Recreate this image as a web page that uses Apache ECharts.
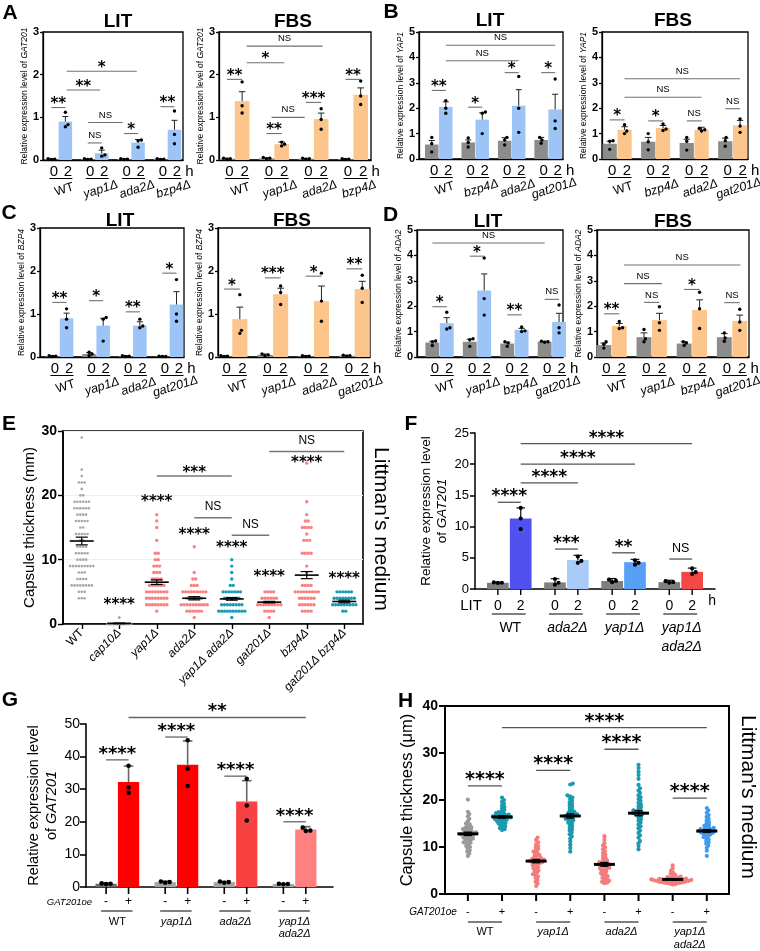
<!DOCTYPE html>
<html><head><meta charset="utf-8">
<script src="https://cdn.jsdelivr.net/npm/echarts@6.0.0/dist/echarts.min.js"></script>
<style>html,body{margin:0;padding:0;background:#fff;}#chart{width:760px;height:951px;}</style>
</head><body><div id="chart"></div>
<script>
// ======================= DATA =======================
// Panels A-D: per strain [0 h, 2 h]; dots = individual replicates; sig = [x1, x2, y, label]
const aGroups = ['WT','yap1Δ','ada2Δ','bzp4Δ'];
const aLitMean = [[0.02,0.90],[0.02,0.16],[0.02,0.41],[0.02,0.71]];
const aLitErr  = [[0.01,0.12],[0.01,0.07],[0.01,0.07],[0.01,0.22]];
const aLitDots = [[[0.03,0.02,0.01],[1.12,0.83,0.78]],[[0.03,0.02,0.01],[0.28,0.12,0.09]],[[0.03,0.02,0.01],[0.47,0.45,0.30]],[[0.03,0.02,0.01],[1.15,0.60,0.38]]];
const aLitSig  = [[0,0.385,1.23,'**'],[1,1.385,0.40,'NS'],[2,2.385,0.62,'*'],[3,3.385,1.25,'**'],[1.01,1.96,0.88,'NS'],[0.42,1.34,1.64,'**'],[0.42,2.35,2.08,'*']];
const aFbsMean = [[0.03,1.38],[0.04,0.37],[0.03,0.96],[0.02,1.53]];
const aFbsErr  = [[0.01,0.22],[0.01,0.05],[0.01,0.14],[0.01,0.16]];
const aFbsDots = [[[0.04,0.03,0.02],[1.83,1.27,1.10]],[[0.06,0.04,0.03],[0.42,0.37,0.33]],[[0.04,0.03,0.02],[1.20,0.95,0.72]],[[0.03,0.02,0.01],[1.85,1.50,1.30]]];
const aFbsSig  = [[0,0.385,1.89,'**'],[1,1.385,0.62,'**'],[2,2.385,1.35,'***'],[3,3.385,1.89,'**'],[1.13,1.97,1.00,'NS'],[0.5,1.45,2.28,'*'],[0.5,2.42,2.67,'NS']];

const bGroups = ['WT','bzp4Δ','ada2Δ','gat201Δ'];
const bLitMean = [[0.57,2.05],[0.65,1.55],[0.72,2.10],[0.75,1.95]];
const bLitErr  = [[0.16,0.20],[0.10,0.27],[0.12,0.63],[0.10,0.60]];
const bLitDots = [[[0.85,0.60,0.28],[2.30,2.00,1.80]],[[0.83,0.65,0.47],[1.85,1.80,1.00]],[[0.85,0.75,0.55],[3.25,2.00,1.05]],[[0.85,0.75,0.62],[3.15,1.50,1.20]]];
const bLitSig  = [[0,0.385,2.70,'**'],[1,1.385,2.04,'*'],[2,2.385,3.40,'*'],[3,3.385,3.40,'*'],[0.385,2.385,3.87,'NS'],[0.385,3.385,4.48,'NS']];
const bFbsMean = [[0.60,1.15],[0.68,1.22],[0.63,1.15],[0.70,1.32]];
const bFbsErr  = [[0.10,0.12],[0.17,0.10],[0.15,0.10],[0.12,0.20]];
const bFbsDots = [[[0.72,0.70,0.38],[1.35,1.10,1.00]],[[1.00,0.68,0.36],[1.38,1.18,1.12]],[[0.85,0.70,0.35],[1.20,1.15,1.10]],[[0.85,0.72,0.50],[1.58,1.30,1.05]]];
const bFbsSig  = [[0,0.385,1.54,'*'],[1,1.385,1.50,'*'],[2,2.385,1.50,'NS'],[3,3.385,1.98,'NS'],[0.385,2.385,2.43,'NS'],[0.385,3.385,3.16,'NS']];

const cGroups = ['WT','yap1Δ','ada2Δ','gat201Δ'];
const cLitMean = [[0.02,0.90],[0.07,0.73],[0.02,0.73],[0.01,1.22]];
const cLitErr  = [[0.01,0.12],[0.03,0.17],[0.01,0.09],[0.01,0.30]];
const cLitDots = [[[0.03,0.02,0.01],[1.12,0.88,0.68]],[[0.11,0.07,0.03],[0.92,0.88,0.37]],[[0.03,0.02,0.01],[0.88,0.72,0.68]],[[0.02,0.01,0.01],[1.80,1.00,0.83]]];
const cLitSig  = [[0,0.385,1.27,'**'],[1,1.385,1.31,'*'],[2,2.385,1.05,'**'],[3,3.385,1.95,'*']];
const cFbsMean = [[0.02,0.88],[0.05,1.46],[0.02,1.30],[0.03,1.58]];
const cFbsErr  = [[0.01,0.28],[0.02,0.14],[0.01,0.35],[0.01,0.18]];
const cFbsDots = [[[0.03,0.02,0.01],[1.45,0.62,0.55]],[[0.07,0.05,0.03],[1.65,1.50,1.22]],[[0.03,0.02,0.01],[1.95,1.30,0.83]],[[0.04,0.03,0.02],[1.90,1.60,1.27]]];
const cFbsSig  = [[0,0.385,1.58,'*'],[1,1.385,1.84,'***'],[2,2.385,1.88,'*'],[3,3.385,2.05,'**']];

const dGroups = ['WT','yap1Δ','bzp4Δ','gat201Δ'];
const dLitMean = [[0.57,1.33],[0.60,2.62],[0.53,1.07],[0.60,1.38]];
const dLitErr  = [[0.05,0.22],[0.10,0.65],[0.05,0.06],[0.02,0.34]];
const dLitDots = [[[0.63,0.60,0.45],[1.76,1.15,1.10]],[[0.72,0.68,0.42],[3.90,2.30,1.65]],[[0.60,0.55,0.42],[1.18,1.03,1.00]],[[0.62,0.60,0.58],[2.05,1.15,0.95]]];
const dLitSig  = [[0,0.385,1.98,'*'],[1,1.385,3.97,'*'],[2,2.385,1.66,'**'],[3,3.385,2.27,'NS'],[0,3.0,4.49,'NS']];
const dFbsMean = [[0.47,1.22],[0.78,1.45],[0.53,1.85],[0.78,1.42]];
const dFbsErr  = [[0.08,0.10],[0.17,0.27],[0.07,0.40],[0.14,0.23]];
const dFbsDots = [[[0.60,0.50,0.35],[1.40,1.15,1.12]],[[1.08,0.72,0.60],[1.98,1.35,1.05]],[[0.60,0.55,0.45],[2.55,1.90,1.12]],[[0.95,0.75,0.62],[1.88,1.38,1.05]]];
const dFbsSig  = [[0,0.385,1.70,'**'],[1,1.385,2.15,'NS'],[2,2.385,2.66,'*'],[3,3.385,2.14,'NS'],[0.5,1.45,2.89,'NS'],[0.5,3.4,3.62,'NS']];

// Panel E: capsule thickness, dots as [value, count] rows
const eGroups = ['WT','cap10Δ','yap1Δ','ada2Δ','yap1Δ ada2Δ','gat201Δ','bzp4Δ','gat201Δ bzp4Δ'];
const eCounts = [
  [[29,1],[24,1],[23,1],[22,3],[21,1],[20,2],[19,6],[18,6],[17,4],[16,5],[15,2],[14,5],[13,2],[12,4],[11,5],[10,4],[9,9],[8,3],[7,4],[6,8],[5,3],[4,3]],
  [[1,1],[0,9]],
  [[17,1],[16,1],[15,1],[13,1],[11,2],[10,2],[9,3],[8,3],[7,4],[6,6],[5,8],[4,8],[3,8],[2,1]],
  [[12,1],[8,1],[7,2],[6,3],[5,9],[4,6],[3,10],[2,6],[1,1]],
  [[10,1],[9,1],[8,1],[7,1],[6,2],[5,7],[4,6],[3,8],[2,10],[1,1]],
  [[5,4],[4,6],[3,9],[2,4],[1,1]],
  [[25,1],[19,1],[17,1],[16,2],[15,4],[14,1],[13,3],[11,4],[9,1],[8,1],[6,4],[5,9],[4,6],[3,6],[2,4]],
  [[5,6],[4,8],[3,9],[2,2]]
];
const eMean = [12.9,0.1,6.5,4.0,3.9,3.4,7.6,3.5];
const eSem  = [0.6,0.05,0.35,0.25,0.2,0.12,0.55,0.2];
const eStars = [[1,3.5,'****'],[2,19.5,'****'],[3,14.3,'****'],[4,12.3,'****'],[5,7.8,'****'],[6,25.6,'****'],[7,7.5,'****']];
const eSig = [[2,4,23.0,'***'],[3,4,16.5,'NS'],[4,5,13.8,'NS'],[5,7,26.8,'NS']];

// Panel F: GAT201 in LIT, [0 h, 2 h]
const fGroups = ['WT','ada2Δ','yap1Δ','yap1Δ\nada2Δ'];
const fMean = [[1.00,11.3],[1.05,4.65],[1.28,4.30],[1.10,2.75]];
const fErr  = [[0.05,1.70],[0.60,0.75],[0.40,0.45],[0.30,0.60]];
const fDots = [[[1.05,1.00,0.98],[13.0,11.3,9.6]],[[1.6,1.0,0.7],[5.2,4.5,4.2]],[[1.5,1.3,1.1],[4.6,4.2,3.9]],[[1.25,1.1,1.0],[3.3,2.7,2.4]]];
const fSig  = [[0,0.4,13.9,'****'],[0.4,1.4,17,'****'],[0.4,2.4,20,'****'],[0.4,3.4,23.3,'****'],[1,1.4,6.4,'***'],[2,2.4,5.8,'**'],[3,3.4,4.8,'NS']];

// Panel G: GAT201 overexpression [-, +]
const gGroups = ['WT','yap1Δ','ada2Δ','yap1Δ\nada2Δ'];
const gMean = [[1.0,32.2],[1.5,37.5],[1.5,26.2],[0.9,17.6]];
const gErr  = [[0.2,4.9],[0.3,7.3],[0.2,6.4],[0.1,0.9]];
const gDots = [[[1.1,1.0,0.9],[37.2,30.5,28.9]],[[1.7,1.5,1.3],[45.0,36.3,31.0]],[[1.7,1.5,1.3],[33.2,25.0,20.4]],[[1.0,0.9,0.85],[18.2,17.3,17.2]]];
const gSig  = [[0,0.38,39,'****'],[1,1.38,46,'****'],[2,2.38,34,'****'],[3,3.38,20,'****'],[0.38,3.38,52,'**']];

// Panel H: capsule thickness (µm), GAT201oe -/+
const hGroups = ['WT','yap1Δ','ada2Δ','yap1Δ\nada2Δ'];
const hWTm = [20.1,17.5,17.0,16.5,16.0,15.5,15.0,14.8,14.5,14.2,14.0,13.8,13.5,13.3,13.1,13.0,12.9,12.8,12.6,12.5,12.3,12.1,12.0,11.8,11.5,11.3,11.0,10.8,10.5,10.2,10.0,9.7,9.3,9.0,8.6,8.1,12.7,13.2,12.4,11.9,14.1,13.6,11.6,10.9];
const hWTp = [20.5,20.0,19.6,19.2,18.8,18.5,18.2,17.9,17.6,17.4,17.2,17.0,16.8,16.7,16.6,16.5,16.4,16.3,16.2,16.1,16.0,15.9,15.8,15.6,15.5,15.3,15.1,15.0,14.8,14.6,14.4,14.2,14.0,13.8,13.6,16.5,16.9,15.7,17.1,16.3];
const hYapm = [12.0,11.5,11.0,10.6,10.2,9.9,9.6,9.3,9.0,8.8,8.5,8.3,8.1,7.9,7.7,7.5,7.3,7.1,7.0,6.9,6.7,6.5,6.3,6.1,5.9,5.7,5.5,5.3,5.0,4.8,4.5,4.2,4.0,3.7,3.4,3.0,2.6,2.2,1.7,7.2,6.8,7.4,6.6];
const hYapp = [23.5,23.3,21.0,20.8,20.5,20.2,19.8,19.5,19.2,18.9,18.6,18.3,18.0,17.7,17.5,17.2,17.0,16.8,16.6,16.4,16.2,16.0,15.8,15.5,15.2,15.0,14.7,14.4,14.1,13.8,13.5,13.1,12.7,12.3,11.8,11.2,10.5,9.8,9.0,16.5,16.9,17.3,15.7];
const hAdam = [12.3,11.5,10.8,10.3,9.9,9.5,9.1,8.7,8.4,8.1,7.8,7.5,7.2,7.0,6.8,6.6,6.4,6.2,6.0,5.8,5.6,5.4,5.2,5.0,4.8,4.6,4.4,4.2,4.0,3.8,3.6,3.4,3.2,3.0,2.8,2.6,2.4,2.3,6.3,6.1,5.5,6.7];
const hAdap = [27.5,26.8,26.0,25.3,24.5,23.2,22.5,22.0,21.5,21.0,20.6,20.2,19.8,19.4,19.0,18.7,18.4,18.1,17.8,17.5,17.2,17.0,16.8,16.5,16.2,15.9,15.6,15.2,14.8,14.4,14.0,13.5,13.0,12.5,12.0,11.3,10.8,10.2,9.5,17.4,16.9,17.6];
const hDblm = [6.1,5.5,5.0,4.6,4.3,4.1,3.9,3.7,3.6,3.5,3.4,3.3,3.2,3.2,3.1,3.1,3.0,3.0,2.9,2.9,2.8,2.8,2.7,2.7,2.6,2.6,2.5,2.5,2.4,2.4,2.3,2.3,2.2,2.1,2.0,3.0,3.1,2.9,3.3,2.8];
const hDblp = [18.3,17.8,17.3,16.8,16.4,16.0,15.6,15.3,15.0,14.7,14.5,14.3,14.1,13.9,13.7,13.5,13.4,13.3,13.2,13.1,13.0,12.9,12.7,12.5,12.3,12.1,11.9,11.6,11.3,11.0,10.7,10.3,9.8,9.2,8.1,13.6,13.8,12.8,13.4,14.0];
const hMean = [12.8,16.4,7.0,16.6,6.3,17.2,3.1,13.4];
const hSem  = [0.35,0.25,0.35,0.45,0.4,0.55,0.15,0.3];
const hSig  = [[1,2,23.0,'****'],[3,4,26.3,'****'],[5,6,30.8,'****'],[7,8,20.4,'****'],[2,8,35.4,'****']];

// ======================= BUILD =======================
const FONT = 'Liberation Sans';
const STARF = 'DejaVu Sans';
const grids = [], xAxes = [], yAxes = [], series = [], graphic = [];

function ts(text, o) {
  return Object.assign({text: text, fill: '#000', fontFamily: FONT, fontSize: 12, fontWeight: 'normal', fontStyle: 'normal',
    align: 'center', verticalAlign: 'middle', textAlign: 'center', textVerticalAlign: 'middle'}, o || {});
}
function fixAlign(s){ s.textAlign = s.align; s.textVerticalAlign = s.verticalAlign; return s; }
function ln(x1, y1, x2, y2, c, w) { return {type: 'line', shape: {x1, y1, x2, y2}, style: {stroke: c, lineWidth: w}}; }

function swarm(vals, pyu, d) {
  const placed = [], out = new Array(vals.length);
  const order = vals.map((v, i) => i).sort((a, b) => vals[a] - vals[b]);
  for (const i of order) {
    const y = vals[i] * pyu;
    const cands = [0];
    for (const q of placed) {
      const dy = y - q.y;
      if (Math.abs(dy) < d) { const dx = Math.sqrt(d * d - dy * dy); cands.push(q.x + dx + 1e-6, q.x - dx - 1e-6); }
    }
    cands.sort((a, b) => Math.abs(a) - Math.abs(b));
    let best = 0;
    for (const c of cands) {
      if (placed.every(q => (q.x - c) * (q.x - c) + (q.y - y) * (q.y - y) >= d * d - 1e-3)) { best = c; break; }
    }
    placed.push({x: best, y}); out[i] = best;
  }
  return out;
}

function addGrid(rect, box, boxW) {
  grids.push({left: rect[0], top: rect[1], width: rect[2], height: rect[3], show: !!box, borderColor: '#000', borderWidth: boxW || 1.3, backgroundColor: 'transparent'});
  return grids.length - 1;
}

function sigSeries(xi, yi, sig, o) {
  return {type: 'custom', xAxisIndex: xi, yAxisIndex: yi, z: 5, silent: true, clip: false,
    data: sig.map(s => [s[0], s[1], s[2]]), encode: {x: [0, 1], y: 2},
    renderItem: (p, api) => {
      const s = sig[p.dataIndex];
      const a = api.coord([s[0], s[2]]), b = api.coord([s[1], s[2]]);
      const star = s[3].indexOf('*') >= 0;
      const fs = star ? o.starSize : o.nsSize;
      const ty = star ? a[1] - o.starGap + 0.24 * fs : a[1] - o.nsGap;
      return {type: 'group', children: [
        ln(a[0], a[1], b[0], b[1], o.lineColor, o.lineW),
        {type: 'text', x: (a[0] + b[0]) / 2, y: ty, style: fixAlign(ts(s[3], {fontSize: fs, fontFamily: star ? STARF : FONT, fontWeight: star ? 'bold' : 'normal'}))}
      ]};
    }};
}

function labelSeries(xi, yi, P) {
  const L = P.lab;
  const gStart = P.gStart || 0, gStep = P.gStep || 1;
  return {type: 'custom', xAxisIndex: xi, yAxisIndex: yi, z: 6, silent: true, clip: false,
    data: P.groups.map((g, i) => [gStart + i * gStep, 0]), encode: {x: 0, y: 1},
    renderItem: (p, api) => {
      const g = p.dataIndex;
      const x0 = gStart + g * gStep;
      const a = api.coord([x0, 0]), b = api.coord([x0 + P.off, 0]);
      const yb = a[1], ch = [];
      if (L.tick) { ch.push(ln(a[0], yb, a[0], yb + L.tick, '#000', L.tickW || 1.4)); ch.push(ln(b[0], yb, b[0], yb + L.tick, '#000', L.tickW || 1.4)); }
      ch.push({type: 'text', x: a[0] + L.markDx, y: yb + L.markDy, style: fixAlign(ts(L.marks[0], {fontSize: L.markSize}))});
      ch.push({type: 'text', x: b[0] + L.markDx, y: yb + L.markDy, style: fixAlign(ts(L.marks[1], {fontSize: L.markSize}))});
      ch.push(ln(a[0] + L.ulX0, yb + L.ulDy, b[0] + L.ulX1, yb + L.ulDy, '#000', 1));
      const name = P.groups[g];
      ch.push({type: 'text', x: (a[0] + b[0]) / 2 + L.nameDx, y: yb + L.nameDy, rotation: L.nameRot || 0,
        style: fixAlign(ts(name, {fontSize: L.nameSize, fontStyle: name === 'WT' ? 'normal' : 'italic', lineHeight: L.nameLH || L.nameSize + 2, verticalAlign: L.nameVA || 'middle'}))});
      if (g === P.groups.length - 1 && L.end) ch.push({type: 'text', x: b[0] + L.endDx, y: yb + L.endDy, style: fixAlign(ts(L.end, {fontSize: L.endSize}))});
      if (g === 0 && L.start) ch.push({type: 'text', x: a[0] + L.startDx, y: yb + L.startDy, style: fixAlign(ts(L.start, {fontSize: L.startSize, align: 'right', fontStyle: L.startItalic ? 'italic' : 'normal'}))});
      return {type: 'group', children: ch};
    }};
}

function barPanel(P) {
  const gi = addGrid(P.rect, P.box, P.boxW);
  const xi = xAxes.length, yi = yAxes.length;
  xAxes.push({gridIndex: gi, type: 'value', min: P.xMin, max: P.xMax,
    axisLine: {show: true, onZero: false, lineStyle: {color: '#000', width: P.axisW}}, axisTick: {show: false}, axisLabel: {show: false}, splitLine: {show: false}});
  yAxes.push({gridIndex: gi, type: 'value', min: 0, max: P.yMax, interval: P.yInt,
    axisLine: {show: true, onZero: false, lineStyle: {color: '#000', width: P.axisW}},
    axisTick: {show: true, length: P.tickLen, lineStyle: {color: '#000', width: P.axisW}},
    axisLabel: {color: '#000', fontFamily: FONT, fontSize: P.yFont, fontWeight: P.yBold ? 'bold' : 'normal', margin: P.yMargin},
    splitLine: {show: false}, name: P.yName, nameLocation: 'middle', nameGap: P.nameGap, nameTextStyle: P.nameStyle});
  const pyu = P.rect[3] / P.yMax, pxu = P.rect[2] / (P.xMax - P.xMin);
  const bars = [], dots = [];
  P.means.forEach((pair, g) => pair.forEach((m, k) => {
    const x = g + k * P.off;
    bars.push([x, m, P.errs[g][k], k, g]);
    const vals = P.dots[g][k];
    const offs = swarm(vals, pyu, P.dotD);
    vals.forEach((v, j) => dots.push([x + offs[j] / pxu, v]));
  }));
  series.push({type: 'custom', xAxisIndex: xi, yAxisIndex: yi, z: 2, silent: true, data: bars, encode: {x: 0, y: 1},
    renderItem: (p, api) => {
      const x = api.value(0), y = api.value(1), e = api.value(2), k = api.value(3), g = api.value(4);
      const p0 = api.coord([x - P.barW / 2, y]), p1 = api.coord([x + P.barW / 2, 0]);
      const top = api.coord([x, y + e]);
      const cx = (p0[0] + p1[0]) / 2, cw = (p1[0] - p0[0]) * P.capFrac;
      const col = k === 0 ? P.c0[g] : P.c1[g];
      return {type: 'group', children: [
        {type: 'rect', shape: {x: p0[0], y: p0[1], width: p1[0] - p0[0], height: p1[1] - p0[1]}, style: {fill: col}},
        ln(cx, p0[1], cx, top[1], P.errColor, P.errW),
        ln(cx - cw / 2, top[1], cx + cw / 2, top[1], P.errColor, P.errW)
      ]};
    }});
  series.push({type: 'scatter', xAxisIndex: xi, yAxisIndex: yi, z: 4, silent: true, data: dots, symbolSize: P.dotSize, itemStyle: {color: '#000', opacity: 1}});
  series.push(sigSeries(xi, yi, P.sig, P.sigStyle));
  series.push(labelSeries(xi, yi, P));
}

// ---------- Panels A-D ----------
const GRAY0 = '#8c8c8c', BLUE = '#9cc4f6', ORANGE = '#fcc58c';
const abcdLab = {marks: ['0', '2'], markSize: 15, markDx: 2.5, markDy: 12, ulX0: -2, ulX1: 7, ulDy: 18.5,
  nameDx: 6, nameDy: 29.5, nameSize: 12.5, nameRot: 0.3, end: 'h', endDx: 15, endDy: 11.5, endSize: 15};
const abcdSig = {lineColor: '#707070', lineW: 1.1, starSize: 15, nsSize: 9.5, starGap: 7, nsGap: 7.5};
function geneName(g) {
  return {name: '{n|Relative expression level of }{i|' + g + '}', style: {fontSize: 8.5, color: '#000', fontFamily: FONT,
    rich: {n: {fontSize: 8.5, fontFamily: FONT, color: '#000'}, i: {fontSize: 8.5, fontFamily: FONT, color: '#000', fontStyle: 'italic'}}}};
}
const abcdSpecs = [
  {rect: [43, 32, 140, 128], xMin: -0.23, xMax: 3.62, yMax: 3, means: aLitMean, errs: aLitErr, dots: aLitDots, sig: aLitSig, groups: aGroups, c1: BLUE, gene: 'GAT201', nameGap: 13},
  {rect: [219, 32, 152, 128], xMin: -0.20, xMax: 3.646, yMax: 3, means: aFbsMean, errs: aFbsErr, dots: aFbsDots, sig: aFbsSig, groups: aGroups, c1: ORANGE, gene: 'GAT201', nameGap: 11},
  {rect: [419, 32, 144, 127], xMin: -0.35, xMax: 3.60, yMax: 5, means: bLitMean, errs: bLitErr, dots: bLitDots, sig: bLitSig, groups: bGroups, c1: BLUE, gene: 'YAP1', nameGap: 11},
  {rect: [602, 32, 146, 127], xMin: -0.20, xMax: 3.59, yMax: 5, means: bFbsMean, errs: bFbsErr, dots: bFbsDots, sig: bFbsSig, groups: bGroups, c1: ORANGE, gene: 'YAP1', nameGap: 13},
  {rect: [40, 228, 144, 129], xMin: -0.34, xMax: 3.59, yMax: 3, means: cLitMean, errs: cLitErr, dots: cLitDots, sig: cLitSig, groups: cGroups, c1: BLUE, gene: 'BZP4', nameGap: 11},
  {rect: [218, 228, 152, 129], xMin: -0.15, xMax: 3.575, yMax: 3, means: cFbsMean, errs: cFbsErr, dots: cFbsDots, sig: cFbsSig, groups: cGroups, c1: ORANGE, gene: 'BZP4', nameGap: 11},
  {rect: [417, 230, 146, 127], xMin: -0.41, xMax: 3.49, yMax: 5, means: dLitMean, errs: dLitErr, dots: dLitDots, sig: dLitSig, groups: dGroups, c1: BLUE, gene: 'ADA2', nameGap: 11},
  {rect: [597, 230, 152, 127], xMin: -0.17, xMax: 3.615, yMax: 5, means: dFbsMean, errs: dFbsErr, dots: dFbsDots, sig: dFbsSig, groups: dGroups, c1: ORANGE, gene: 'ADA2', nameGap: 11}
];
abcdSpecs.forEach(s => {
  const gn = geneName(s.gene);
  barPanel({rect: s.rect, box: true, boxW: 1.3, xMin: s.xMin, xMax: s.xMax, yMax: s.yMax, yInt: 1, axisW: 1.3, tickLen: 3,
    yFont: 11, yBold: true, yMargin: 4, yName: gn.name, nameGap: s.nameGap, nameStyle: gn.style,
    means: s.means, errs: s.errs, dots: s.dots, sig: s.sig, groups: s.groups, off: 0.385, barW: 0.37, capFrac: 0.45,
    c0: [GRAY0, GRAY0, GRAY0, GRAY0], c1: [s.c1, s.c1, s.c1, s.c1], errColor: '#222', errW: 1, dotD: 3.4, dotSize: 3.4,
    sigStyle: abcdSig, lab: abcdLab});
});

// ---------- Panel F ----------
const relName2 = {name: '{n|Relative expression level}\n{n|of }{i|GAT201}'};
function relStyle(fs) {
  return {fontSize: fs, color: '#000', fontFamily: FONT, lineHeight: fs + 3,
    rich: {n: {fontSize: fs, fontFamily: FONT, color: '#000', lineHeight: fs + 3}, i: {fontSize: fs, fontFamily: FONT, color: '#000', fontStyle: 'italic', lineHeight: fs + 3}}};
}
barPanel({rect: [475, 433, 240, 156], box: false, xMin: -0.4, xMax: 3.8, yMax: 25, yInt: 5, axisW: 1.5, tickLen: 5,
  yFont: 13, yBold: false, yMargin: 6, yName: relName2.name, nameGap: 23, nameStyle: relStyle(13.5),
  means: fMean, errs: fErr, dots: fDots, sig: fSig, groups: fGroups, off: 0.4, barW: 0.38, capFrac: 0.4,
  c0: ['#7f7f7f', '#7f7f7f', '#7f7f7f', '#7f7f7f'], c1: ['#5151f0', '#a8cbf8', '#57a0f5', '#f44848'], errColor: '#111', errW: 1.2,
  dotD: 4, dotSize: 4.2,
  sigStyle: {lineColor: '#555', lineW: 1.3, starSize: 17, nsSize: 12.5, starGap: 9.5, nsGap: 11},
  lab: {tick: 6, marks: ['0', '2'], markSize: 14, markDx: 0, markDy: 17, ulX0: -6, ulX1: 5, ulDy: 25,
    nameDx: 1, nameDy: 29.5, nameSize: 14, nameLH: 19, nameVA: 'top', start: 'LIT', startDx: -16, startDy: 17, startSize: 15,
    end: 'h', endDx: 20, endDy: 12, endSize: 14}});

// ---------- Panel G ----------
barPanel({rect: [86, 724, 247, 163], box: false, xMin: -0.34, xMax: 3.84, yMax: 50, yInt: 10, axisW: 1.6, tickLen: 6,
  yFont: 14, yBold: false, yMargin: 6, yName: relName2.name, nameGap: 24, nameStyle: relStyle(14.5),
  means: gMean, errs: gErr, dots: gDots, sig: gSig, groups: gGroups, off: 0.38, barW: 0.36, capFrac: 0.45,
  c0: ['#6e6e6e', '#a5a5a5', '#a5a5a5', '#a0a0a0'], c1: ['#ff0000', '#ff0000', '#f84242', '#ff8080'], errColor: '#666', errW: 1.6,
  dotD: 4.5, dotSize: 4.6,
  sigStyle: {lineColor: '#666', lineW: 1.3, starSize: 18, nsSize: 12, starGap: 10, nsGap: 10},
  lab: {tick: 7, tickW: 1.6, marks: ['-', '+'], markSize: 12, markDx: 0, markDy: 15, ulX0: -5, ulX1: 4, ulDy: 24,
    nameDx: 0, nameDy: 29.5, nameSize: 11, nameLH: 11.5, nameVA: 'top', start: 'GAT201oe', startDx: -14, startDy: 15, startSize: 9.5, startItalic: true}});

// ---------- Panel E ----------
(function () {
  const gi = addGrid([63, 431, 300, 193], true, 1.6);
  xAxes.push({gridIndex: gi, type: 'category', data: eGroups,
    axisLine: {onZero: false, lineStyle: {color: '#000', width: 1.6}},
    axisTick: {show: true, alignWithLabel: true, length: 5, lineStyle: {color: '#000', width: 1.4}},
    axisLabel: {rotate: 45, margin: 7, fontSize: 12, color: '#000', fontFamily: FONT, interval: 0,
      formatter: v => v === 'WT' ? v : '{i|' + v + '}', rich: {i: {fontStyle: 'italic', fontSize: 12, fontFamily: FONT, color: '#000'}}},
    splitLine: {show: false}});
  const xv = xAxes.length;
  xAxes.push({gridIndex: gi, type: 'value', min: -0.5, max: 7.5, show: false});
  const yi = yAxes.length;
  yAxes.push({gridIndex: gi, type: 'value', min: 0, max: 30, interval: 10,
    axisLine: {show: true, onZero: false, lineStyle: {color: '#000', width: 1.6}},
    axisTick: {show: true, length: 5, lineStyle: {color: '#000', width: 1.4}},
    axisLabel: {color: '#000', fontFamily: FONT, fontSize: 14, fontWeight: 'bold', margin: 6},
    splitLine: {show: true, lineStyle: {color: '#efefef', width: 1}},
    name: 'Capsule thickness (mm)', nameLocation: 'middle', nameGap: 22, nameTextStyle: {fontSize: 15, fontFamily: FONT, color: '#000'}});
  const pxu = 300 / 8;
  const eColors = ['#a6a6a6', '#a6a6a6', '#f98181', '#f98181', '#199cb6', '#f98181', '#f98181', '#199cb6'];
  const eSizes = [2.6, 3, 3.4, 3.4, 3.4, 3.4, 3.4, 3.4];
  eCounts.forEach((rows, k) => {
    const pts = [];
    rows.forEach(([v, n]) => { for (let i = 0; i < n; i++) pts.push([k + (i - (n - 1) / 2) * 2.9 / pxu, v]); });
    series.push({type: 'scatter', xAxisIndex: xv, yAxisIndex: yi, z: 3, silent: true, data: pts, symbolSize: eSizes[k], itemStyle: {color: eColors[k], opacity: 1}});
  });
  series.push({type: 'custom', xAxisIndex: xv, yAxisIndex: yi, z: 4, silent: true,
    data: eMean.map((m, k) => [k, m, eSem[k]]), encode: {x: 0, y: 1},
    renderItem: (p, api) => {
      const c = api.coord([api.value(0), api.value(1)]);
      const t = api.coord([api.value(0), api.value(1) + api.value(2)]);
      const b = api.coord([api.value(0), api.value(1) - api.value(2)]);
      return {type: 'group', children: [
        ln(c[0] - 12, c[1], c[0] + 12, c[1], '#000', 1.6),
        ln(c[0], t[1], c[0], b[1], '#000', 1.2),
        ln(c[0] - 6, t[1], c[0] + 6, t[1], '#000', 1.2),
        ln(c[0] - 6, b[1], c[0] + 6, b[1], '#000', 1.2)
      ]};
    }});
  series.push({type: 'custom', xAxisIndex: xv, yAxisIndex: yi, z: 5, silent: true, clip: false,
    data: eStars.map(s => [s[0], s[1]]), encode: {x: 0, y: 1},
    renderItem: (p, api) => {
      const c = api.coord([api.value(0), api.value(1)]);
      return {type: 'text', x: c[0], y: c[1] + 0.24 * 15, style: fixAlign(ts(eStars[p.dataIndex][2], {fontSize: 15, fontFamily: STARF, fontWeight: 'bold'}))};
    }});
  series.push(sigSeries(xv, yi, eSig, {lineColor: '#777', lineW: 1.5, starSize: 15, nsSize: 12, starGap: 6.5, nsGap: 11}));
})();

// ---------- Panel H ----------
(function () {
  const rect = [445, 706, 284, 188];
  const gi = addGrid(rect, true, 2);
  const xi = xAxes.length, yi = yAxes.length;
  const xMin = 0.33, xMax = 8.65;
  xAxes.push({gridIndex: gi, type: 'value', min: xMin, max: xMax,
    axisLine: {show: true, onZero: false, lineStyle: {color: '#000', width: 2}}, axisTick: {show: false}, axisLabel: {show: false}, splitLine: {show: false}});
  yAxes.push({gridIndex: gi, type: 'value', min: 0, max: 40, interval: 10,
    axisLine: {show: true, onZero: false, lineStyle: {color: '#000', width: 2}},
    axisTick: {show: true, length: 6, lineStyle: {color: '#000', width: 2}},
    axisLabel: {color: '#000', fontFamily: FONT, fontSize: 14, fontWeight: 'bold', margin: 7},
    splitLine: {show: false},
    name: 'Capsule thickness (\u03bcm)', nameLocation: 'middle', nameGap: 29, nameTextStyle: {fontSize: 16.5, fontFamily: FONT, color: '#000'}});
  const sets = [hWTm, hWTp, hYapm, hYapp, hAdam, hAdap, hDblm, hDblp];
  const cols = ['#9a9a9a', '#1a9aae', '#f47c7c', '#1a9aae', '#f47c7c', '#1a9aae', '#f47c7c', '#3f9bef'];
  const pyu = rect[3] / 40, pxu = rect[2] / (xMax - xMin);
  sets.forEach((vals, k) => {
    const offs = swarm(vals, pyu, 2.75);
    series.push({type: 'scatter', xAxisIndex: xi, yAxisIndex: yi, z: 3, silent: true,
      data: vals.map((v, j) => [k + 1 + offs[j] / pxu, v]), symbolSize: 4.2, itemStyle: {color: cols[k], opacity: 1}});
  });
  series.push({type: 'custom', xAxisIndex: xi, yAxisIndex: yi, z: 4, silent: true,
    data: hMean.map((m, k) => [k + 1, m, hSem[k]]), encode: {x: 0, y: 1},
    renderItem: (p, api) => {
      const c = api.coord([api.value(0), api.value(1)]);
      const t = api.coord([api.value(0), api.value(1) + api.value(2)]);
      const b = api.coord([api.value(0), api.value(1) - api.value(2)]);
      return {type: 'group', children: [
        ln(c[0], t[1], c[0], b[1], '#000', 1.3),
        ln(c[0] - 4, t[1], c[0] + 4, t[1], '#000', 1.3),
        ln(c[0] - 4, b[1], c[0] + 4, b[1], '#000', 1.3),
        ln(c[0] - 10.5, c[1], c[0] + 10.5, c[1], '#000', 3)
      ]};
    }});
  series.push(sigSeries(xi, yi, hSig, {lineColor: '#555', lineW: 1.3, starSize: 19, nsSize: 12, starGap: 10.5, nsGap: 10}));
  series.push(labelSeries(xi, yi, {groups: hGroups, gStart: 1, gStep: 2, off: 1,
    lab: {tick: 7, tickW: 2, marks: ['-', '+'], markSize: 11, markDx: 0, markDy: 18, ulX0: 0, ulX1: 0, ulDy: 28,
      nameDx: 0, nameDy: 32, nameSize: 11, nameLH: 12.7, nameVA: 'top', start: 'GAT201oe', startDx: -11, startDy: 18, startSize: 10, startItalic: true}}));
})();

// ---------- Static text: panel letters, titles, side labels ----------
function gtext(text, x, y, o) {
  graphic.push({type: 'text', x: x, y: y, rotation: (o && o.rot) || 0, silent: true,
    style: fixAlign(ts(text, Object.assign({}, o || {})))});
}
[['A', 10, 13.5], ['B', 391, 12], ['C', 9, 213.5], ['D', 390.5, 215], ['E', 9, 424.5], ['F', 411, 424.5], ['G', 10, 700.5], ['H', 405.5, 701.5]]
  .forEach(l => gtext(l[0], l[1], l[2], {fontSize: 21, fontWeight: 'bold'}));
[['LIT', 118, 22], ['FBS', 293, 22], ['LIT', 490, 21], ['FBS', 673, 21], ['LIT', 120, 220.5], ['FBS', 292, 220.5], ['LIT', 488, 221.5], ['FBS', 673, 221.5]]
  .forEach(l => gtext(l[0], l[1], l[2], {fontSize: 19, fontWeight: 'bold'}));
gtext("Littman's medium", 381, 529, {fontSize: 21, rot: -Math.PI / 2});
gtext("Littman's medium", 748, 797, {fontSize: 21, rot: -Math.PI / 2});

const chart = echarts.init(document.getElementById('chart'), null, {renderer: 'canvas', width: 760, height: 951});
chart.setOption({animation: false, backgroundColor: '#fff', grid: grids, xAxis: xAxes, yAxis: yAxes, series: series, graphic: graphic});
</script></body></html>
